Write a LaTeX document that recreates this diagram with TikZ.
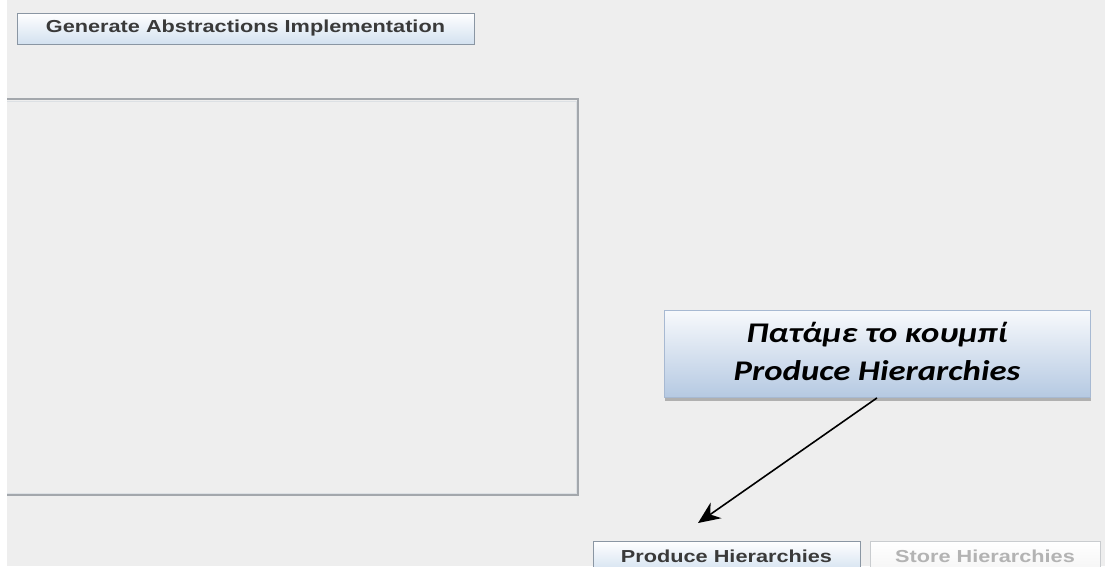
\documentclass[tikz,border=0pt]{standalone}
\usepackage{fontspec}
\setmainfont{Liberation Sans}
\newfontfamily\calloutfont{Carlito}
\usetikzlibrary{arrows.meta,shadows}

\definecolor{winbg}{HTML}{EEEEEE}
\definecolor{panelline}{HTML}{A3A7AC}
\definecolor{panellight}{HTML}{DCE0E4}
\definecolor{btnborder}{HTML}{8A96A3}
\definecolor{btntop}{HTML}{FFFFFF}
\definecolor{btnbottom}{HTML}{D3E1F0}
\definecolor{btntext}{HTML}{3A3A3A}
\definecolor{offborder}{HTML}{C9CCCF}
\definecolor{offtext}{HTML}{B3B3B3}
\definecolor{calltop}{HTML}{F7F9FC}
\definecolor{callbottom}{HTML}{B5C9E2}
\definecolor{callborder}{HTML}{A7B9D2}

\newcommand{\btnlabel}[1]{\scalebox{1}[0.8]{\fontsize{21.7}{26}\selectfont\bfseries #1}}

\tikzset{
  button/.style={draw=btnborder, line width=1pt, top color=btntop, bottom color=btnbottom,
    minimum height=31pt, inner sep=0pt, text=btntext},
  offbutton/.style={draw=offborder, line width=1pt, top color=white, bottom color=winbg!60!white,
    minimum height=31pt, inner sep=0pt, text=offtext},
  callout/.style={draw=callborder, line width=0.8pt, top color=calltop, bottom color=callbottom,
    minimum width=426pt, minimum height=87pt, inner sep=0pt, text=black,
    drop shadow={shadow xshift=1pt, shadow yshift=-3pt, opacity=0.45, fill=black!60}},
  pointer/.style={draw=black, line width=1.6pt, -{Stealth[length=22pt,width=19pt]}}
}

\begin{document}
\begin{tikzpicture}[x=1pt,y=-1pt]
  % window area
  \useasboundingbox (0,0) rectangle (1105,566);
  \fill[white] (0,0) rectangle (1105,566);
  \fill[winbg] (7,0) rectangle (1105,566);

  % top button
  \node[button, minimum width=457pt] (generate) at (245.5,28.5)
    {\btnlabel{Generate Abstractions Implementation}};

  % empty content panel (open on the left)
  \draw[panellight, line width=1pt] (7,101) -- (576,101) -- (576,493) -- (7,493);
  \draw[panelline, line width=1.2pt] (7,99) -- (578,99) -- (578,495) -- (7,495);

  % bottom buttons
  \node[button, minimum width=267pt] (produce) at (726.5,556.5)
    {\btnlabel{Produce Hierarchies}};
  \node[offbutton, minimum width=230pt] (store) at (985,556.5)
    {\btnlabel{Store Hierarchies}};

  % callout
  \node[callout] (note) at (877,354)
    {\scalebox{1}[0.82]{\calloutfont\bfseries\itshape\fontsize{34.7}{46}\selectfont
     \begin{tabular}{@{}c@{}}Πατάμε το κουμπί\\Produce Hierarchies\end{tabular}}};

  \coordinate (tip) at (698,523);
  \draw[pointer] (note.south) -- (tip);
\end{tikzpicture}
\end{document}
